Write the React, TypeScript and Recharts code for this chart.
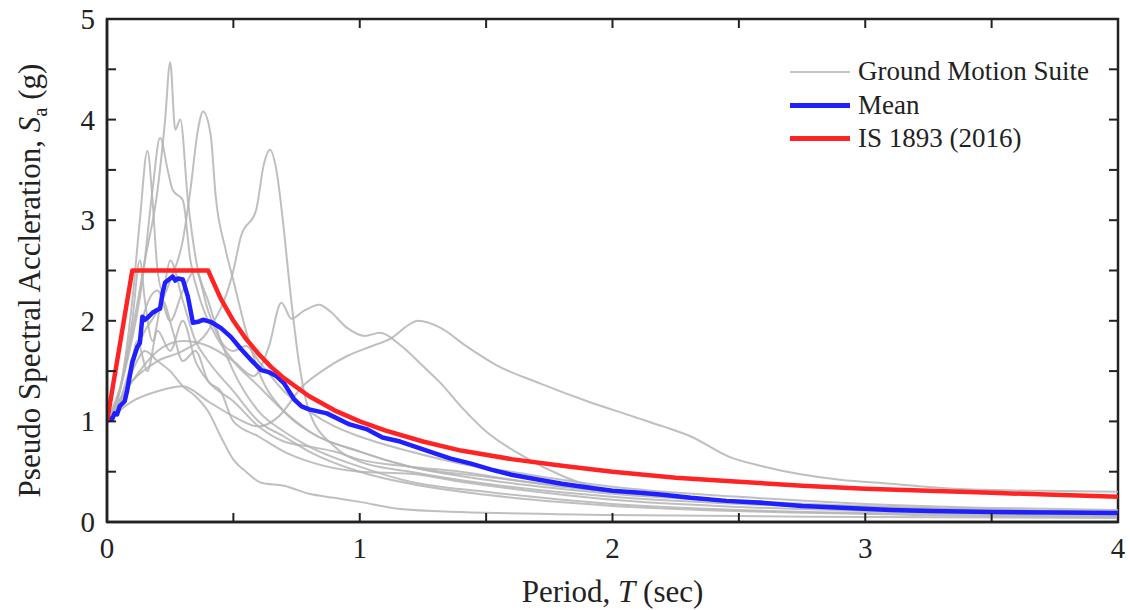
import React from "react";
import { LineChart, Line, XAxis, YAxis, ReferenceArea } from "recharts";

// ---------- data (period T in s, Sa in g) ----------
const xTicks = [0, 0.5, 1, 1.5, 2, 2.5, 3, 3.5, 4];
const yTicks = [0, 0.5, 1, 1.5, 2, 2.5, 3, 3.5, 4, 4.5, 5];

const gmA: [number, number][] = [[0,1.0],[0.05,1.3],[0.1,1.9],[0.15,2.6],[0.2,3.3],[0.23,4.0],[0.25,4.57],[0.27,3.9],[0.29,4.0],[0.32,3.2],[0.36,2.5],[0.4,2.2],[0.45,1.8],[0.5,1.5],[0.6,1.1],[0.7,0.9],[0.8,0.75],[1.0,0.55],[1.2,0.4],[1.5,0.3],[2,0.18],[2.5,0.12],[3,0.09],[4,0.06]];
const gmB: [number, number][] = [[0,1.0],[0.05,1.2],[0.1,1.6],[0.15,1.9],[0.2,2.1],[0.25,2.4],[0.3,2.8],[0.33,3.3],[0.36,3.9],[0.38,4.08],[0.41,3.85],[0.43,3.24],[0.47,2.7],[0.5,2.4],[0.55,1.9],[0.6,1.5],[0.7,1.1],[0.8,0.9],[1.0,0.7],[1.2,0.55],[1.5,0.42],[2.0,0.28],[2.5,0.2],[3,0.15],[4,0.1]];
const gmC: [number, number][] = [[0,1.0],[0.1,1.4],[0.2,1.6],[0.3,1.7],[0.4,1.9],[0.5,2.5],[0.53,2.84],[0.59,3.1],[0.62,3.55],[0.645,3.7],[0.67,3.5],[0.7,2.9],[0.72,2.41],[0.76,1.58],[0.8,1.1],[0.9,0.75],[1.0,0.6],[1.2,0.5],[1.5,0.38],[2,0.25],[2.5,0.18],[3,0.13],[4,0.09]];
const gmD: [number, number][] = [[0,1.0],[0.05,1.3],[0.1,2.2],[0.13,3.0],[0.16,3.69],[0.18,3.2],[0.2,2.5],[0.22,2.3],[0.25,2.6],[0.3,2.2],[0.35,1.8],[0.4,1.6],[0.5,1.3],[0.6,1.0],[0.7,0.85],[0.8,0.7],[1.0,0.5],[1.2,0.38],[1.5,0.27],[2,0.16],[3,0.08],[4,0.05]];
const gmE: [number, number][] = [[0,1.0],[0.08,1.6],[0.14,2.4],[0.18,3.3],[0.21,3.82],[0.24,3.5],[0.26,3.3],[0.3,3.2],[0.33,2.6],[0.37,2.2],[0.42,1.9],[0.5,1.6],[0.6,1.35],[0.7,1.1],[0.8,0.9],[1.0,0.7],[1.2,0.55],[1.5,0.45],[2,0.3],[2.5,0.2],[3,0.14],[4,0.09]];
const gmF: [number, number][] = [[0,1.0],[0.1,1.4],[0.2,1.7],[0.3,1.8],[0.4,1.75],[0.5,1.6],[0.58,1.45],[0.64,1.74],[0.69,2.18],[0.73,2.02],[0.78,2.1],[0.84,2.16],[0.88,2.1],[0.95,1.93],[1.02,1.85],[1.08,1.88],[1.16,1.76],[1.25,1.55],[1.32,1.38],[1.4,1.15],[1.5,0.9],[1.65,0.65],[1.8,0.46],[1.91,0.36],[2.2,0.26],[2.6,0.2],[3,0.16],[4,0.1]];
const gmG: [number, number][] = [[0,1.0],[0.1,1.2],[0.2,1.3],[0.3,1.35],[0.4,1.2],[0.5,1.05],[0.6,0.95],[0.68,1.05],[0.77,1.34],[0.85,1.5],[0.95,1.65],[1.05,1.75],[1.12,1.82],[1.2,1.97],[1.23,2.0],[1.32,1.93],[1.42,1.75],[1.54,1.56],[1.71,1.38],[1.9,1.2],[2.08,1.05],[2.2,0.95],[2.31,0.85],[2.46,0.65],[2.6,0.55],[2.9,0.42],[3.1,0.38],[3.35,0.33],[3.7,0.31],[4,0.3]];
const gmH: [number, number][] = [[0,1.0],[0.05,1.2],[0.1,1.5],[0.15,1.7],[0.2,1.6],[0.25,1.5],[0.3,1.35],[0.35,1.25],[0.4,1.1],[0.45,0.85],[0.5,0.62],[0.55,0.5],[0.61,0.39],[0.7,0.36],[0.8,0.28],[0.9,0.24],[1.0,0.2],[1.16,0.13],[1.4,0.1],[2,0.07],[3,0.05],[4,0.04]];
const gmI: [number, number][] = [[0,1.0],[0.1,1.5],[0.15,2.1],[0.2,2.3],[0.25,2.0],[0.3,2.3],[0.35,2.5],[0.4,2.1],[0.45,1.8],[0.5,1.7],[0.55,1.75],[0.6,1.6],[0.7,1.3],[0.8,1.1],[0.9,0.95],[1.0,0.85],[1.2,0.7],[1.4,0.58],[1.6,0.5],[1.8,0.42],[2.0,0.35],[2.5,0.25],[3.0,0.18],[3.5,0.14],[4,0.12]];
const gmJ: [number, number][] = [[0,1.0],[0.08,1.3],[0.12,1.8],[0.16,1.5],[0.2,1.9],[0.25,1.7],[0.3,2.0],[0.35,1.6],[0.4,1.4],[0.5,1.2],[0.6,0.95],[0.7,0.8],[0.8,0.75],[0.9,0.7],[1.0,0.62],[1.2,0.55],[1.4,0.5],[1.6,0.42],[1.8,0.35],[2.0,0.3],[2.5,0.2],[3,0.15],[4,0.1]];
const gmK: [number, number][] = [[0,1.0],[0.06,1.4],[0.1,2.0],[0.13,2.6],[0.15,2.2],[0.18,1.8],[0.22,2.2],[0.26,1.9],[0.3,1.6],[0.35,1.7],[0.4,1.4],[0.45,1.3],[0.5,1.0],[0.6,0.85],[0.7,0.7],[0.8,0.6],[1.0,0.5],[1.2,0.48],[1.4,0.4],[1.7,0.3],[2,0.22],[2.5,0.15],[3,0.11],[4,0.08]];

const meanSa: [number, number][] = [[0,1.0],[0.01,1.03],[0.02,1.02],[0.03,1.08],[0.04,1.07],[0.05,1.15],[0.07,1.2],[0.08,1.31],[0.1,1.59],[0.12,1.74],[0.13,1.78],[0.14,2.04],[0.15,2.01],[0.16,2.03],[0.18,2.08],[0.2,2.11],[0.21,2.12],[0.22,2.28],[0.23,2.38],[0.25,2.42],[0.26,2.44],[0.27,2.4],[0.28,2.42],[0.3,2.41],[0.32,2.24],[0.34,1.98],[0.36,1.99],[0.38,2.01],[0.41,1.99],[0.45,1.93],[0.49,1.84],[0.53,1.72],[0.57,1.61],[0.61,1.51],[0.64,1.49],[0.67,1.45],[0.7,1.38],[0.74,1.22],[0.77,1.15],[0.8,1.12],[0.87,1.08],[0.96,0.97],[1.03,0.92],[1.09,0.84],[1.16,0.8],[1.23,0.74],[1.3,0.68],[1.36,0.63],[1.44,0.58],[1.52,0.52],[1.6,0.47],[1.71,0.42],[1.8,0.38],[1.91,0.34],[2.0,0.31],[2.11,0.29],[2.2,0.27],[2.31,0.24],[2.45,0.21],[2.6,0.19],[2.75,0.16],[2.93,0.14],[3.1,0.12],[3.26,0.11],[3.5,0.1],[3.75,0.095],[4,0.09]];

const isCode: [number, number][] = [[0,1.0],[0.1,2.5],[0.4,2.5],[0.45,2.22],[0.5,2.0],[0.55,1.82],[0.6,1.67],[0.65,1.54],[0.7,1.43],[0.8,1.25],[0.9,1.11],[1.0,1.0],[1.1,0.91],[1.25,0.8],[1.4,0.71],[1.6,0.625],[1.8,0.56],[2.0,0.5],[2.25,0.44],[2.5,0.4],[2.75,0.36],[3.0,0.33],[3.25,0.31],[3.5,0.29],[3.75,0.27],[4.0,0.25]];

const groundMotions = [gmA, gmB, gmC, gmD, gmE, gmF, gmG, gmH, gmI, gmJ, gmK];

const toRows = (pts: [number, number][]) => pts.map(([T, Sa]) => ({ T, Sa }));

// ---------- layout / styling ----------
const FONT = "'Liberation Serif', 'Times New Roman', serif";
const TEXT = "#222";
const TICK_LEN = 9;
const M = 12; // tick margin
const W = 1130, H = 610;
const MARGIN = { top: 19, right: 12, left: 47, bottom: 38 };
const Y_AXIS_W = 60, X_AXIS_H = 50;
const PLOT_W = W - MARGIN.left - MARGIN.right - Y_AXIS_W;
const PLOT_H = H - MARGIN.top - MARGIN.bottom - X_AXIS_H;

const LeftTick = (p: any) => {
  const v = p.payload.value;
  const x0 = p.x + M;
  return (
    <g>
      <line x1={x0} x2={x0 + TICK_LEN} y1={p.y} y2={p.y} stroke="#222" strokeWidth={2} />
      <line x1={x0 + PLOT_W} x2={x0 + PLOT_W - TICK_LEN} y1={p.y} y2={p.y} stroke="#222" strokeWidth={2} />
      {Number.isInteger(v) && (
        <text x={p.x} y={p.y} dy={10} textAnchor="end" fontFamily={FONT} fontSize={29} fill={TEXT}>{v}</text>
      )}
    </g>
  );
};
const BottomTick = (p: any) => {
  const v = p.payload.value;
  const y0 = p.y - M;
  return (
    <g>
      <line x1={p.x} x2={p.x} y1={y0} y2={y0 - TICK_LEN} stroke="#222" strokeWidth={2} />
      <line x1={p.x} x2={p.x} y1={y0 - PLOT_H} y2={y0 - PLOT_H + TICK_LEN} stroke="#222" strokeWidth={2} />
      {Number.isInteger(v) && (
        <text x={p.x} y={p.y} dy={24} textAnchor="middle" fontFamily={FONT} fontSize={29} fill={TEXT}>{v}</text>
      )}
    </g>
  );
};

const YLabel = (props: any) => {
  const vb = props.viewBox || {};
  const cx = 40;
  const cy = vb.y + vb.height / 2 + 10;
  return (
    <text transform={`translate(${cx},${cy}) rotate(-90)`} textAnchor="middle" fontFamily={FONT} fontSize={31} fill={TEXT}>
      <tspan>Pseudo Spectral Accleration, </tspan>
      <tspan fontStyle="italic">S</tspan>
      <tspan fontSize={21} dy={7}>a</tspan>
      <tspan dy={-7}> (g)</tspan>
    </text>
  );
};
const XLabel = (props: any) => {
  const vb = props.viewBox || {};
  const cx = vb.x + vb.width / 2;
  return (
    <text x={cx} y={602} textAnchor="middle" fontFamily={FONT} fontSize={31} fill={TEXT}>
      <tspan>Period, </tspan>
      <tspan fontStyle="italic">T</tspan>
      <tspan> (sec)</tspan>
    </text>
  );
};

const legendItems = [
  { label: "Ground Motion Suite", color: "#c4c4c4", width: 2.5 },
  { label: "Mean", color: "#1f1fff", width: 5 },
  { label: "IS 1893 (2016)", color: "#ff2424", width: 5 },
];

const LegendBox = () => (
  <div style={{ position: "absolute", left: 790, top: 55, fontFamily: FONT, fontSize: 27, color: TEXT, lineHeight: "33.5px" }}>
    {legendItems.map((it) => (
      <div key={it.label} style={{ display: "flex", alignItems: "center", whiteSpace: "nowrap" }}>
        <div style={{ width: 60, height: it.width, background: it.color, marginRight: 8 }} />
        <span>{it.label}</span>
      </div>
    ))}
  </div>
);

export default function App() {
  return (
    <div style={{ position: "absolute", left: 0, top: 0, width: W, height: H, background: "#fff" }}>
      <LineChart width={W} height={H} margin={MARGIN}>
        <XAxis xAxisId="b" dataKey="T" type="number" domain={[0, 4]} ticks={xTicks} interval={0}
          allowDataOverflow orientation="bottom" height={X_AXIS_H} tickSize={0} tickMargin={M}
          tick={<BottomTick />} axisLine={{ stroke: "#222", strokeWidth: 2.5 }} tickLine={false}
          label={<XLabel />} />
        <YAxis yAxisId="l" type="number" domain={[0, 5]} ticks={yTicks} interval={0} width={Y_AXIS_W}
          tickSize={0} tickMargin={M} tick={<LeftTick />} axisLine={{ stroke: "#222", strokeWidth: 2.5 }}
          tickLine={false} label={<YLabel />} allowDataOverflow />
        <ReferenceArea xAxisId="b" yAxisId="l" x1={0} x2={4} y1={0} y2={5} fill="none" stroke="#222"
          strokeWidth={2.5} ifOverflow="visible" />
        {groundMotions.map((gm, i) => (
          <Line key={"gm" + i} xAxisId="b" yAxisId="l" data={toRows(gm)} dataKey="Sa" type="monotone"
            stroke="#b4b4b4" strokeOpacity={0.85} strokeWidth={2} dot={false} isAnimationActive={false}
            legendType="none" />
        ))}
        <Line xAxisId="b" yAxisId="l" data={toRows(meanSa)} dataKey="Sa" type="linear" stroke="#1f1fff"
          strokeWidth={4.5} dot={false} isAnimationActive={false} strokeLinejoin="round" />
        <Line xAxisId="b" yAxisId="l" data={toRows(isCode)} dataKey="Sa" type="linear" stroke="#ff2424"
          strokeWidth={4.5} dot={false} isAnimationActive={false} strokeLinejoin="round" />
      </LineChart>
      <LegendBox />
    </div>
  );
}
